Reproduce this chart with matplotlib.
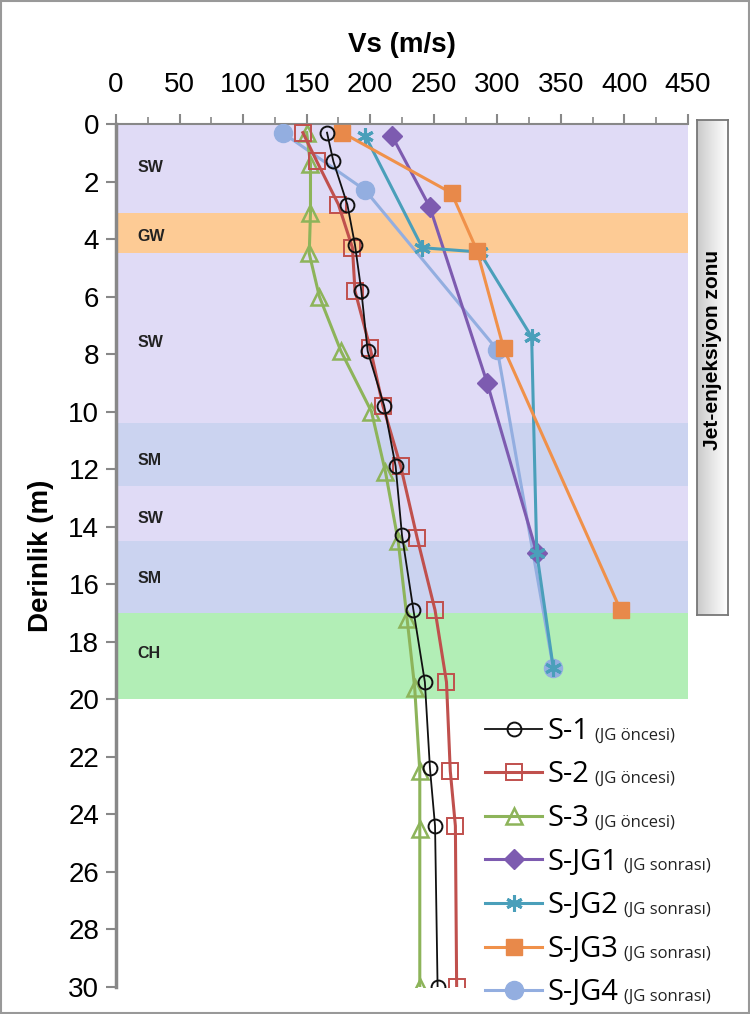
import numpy as np
import matplotlib
matplotlib.use('Agg')
import matplotlib.pyplot as plt
from matplotlib.patches import Rectangle

# Vs profiles (depth in m, Vs in m/s)
depth_s1 = [0.3, 1.3, 2.8, 4.2, 5.8, 7.9, 9.8, 11.9, 14.3, 16.9, 19.4, 22.4, 24.4, 30]
vs_s1 = [166, 171, 182, 188, 193, 198, 211, 220, 225, 234, 243, 247, 251, 253]

depth_s2 = [0.3, 1.3, 2.8, 4.3, 5.8, 7.8, 9.8, 11.9, 14.4, 16.9, 19.4, 22.5, 24.4, 30]
vs_s2 = [147, 158, 175, 186, 188, 200, 210, 224, 237, 251, 260, 263, 267, 268]

depth_s3 = [0.3, 1.4, 3.1, 4.5, 6.0, 7.9, 10.0, 12.1, 14.5, 17.2, 19.6, 22.5, 24.5, 30]
vs_s3 = [150, 153, 153, 152, 160, 177, 201, 212, 222, 229, 235, 239, 239, 239]

depth_jg1 = [0.4, 2.9, 9.0, 14.9]
vs_jg1 = [217, 247, 292, 331]

depth_jg2 = [0.4, 4.3, 4.45, 7.4, 14.9, 18.9]
vs_jg2 = [196, 241, 286, 327, 331, 344]

depth_jg3 = [0.3, 2.4, 4.4, 7.8, 16.9]
vs_jg3 = [178, 264, 284, 305, 397]

depth_jg4 = [0.3, 2.3, 7.85, 18.9]
vs_jg4 = [131, 196, 300, 344]

# soil layers
band_top = [0, 3.1, 4.5, 10.4, 12.6, 14.5, 17]
band_bot = [3.1, 4.5, 10.4, 12.6, 14.5, 17, 20]
band_name = ['SW', 'GW', 'SW', 'SM', 'SW', 'SM', 'CH']
band_label_depth = [1.5, 3.9, 7.6, 11.7, 13.7, 15.8, 18.4]
band_color = {'SW': '#E0DBF6', 'GW': '#FDCB95', 'SM': '#CBD3F0', 'CH': '#B2EEB6'}

labels = ['S-1', 'S-2', 'S-3', 'S-JG1', 'S-JG2', 'S-JG3', 'S-JG4']
notes = ['(JG öncesi)'] * 3 + ['(JG sonrası)'] * 4

fig = plt.figure(figsize=(7.5, 10.14), dpi=100)
ax = fig.add_axes([0.1547, 0.0266, 0.7626, 0.8511])

for t, b, n in zip(band_top, band_bot, band_name):
    ax.axhspan(t, b, xmin=0, xmax=1, color=band_color[n], lw=0, zorder=0)
for n, d in zip(band_name, band_label_depth):
    ax.text(17, d, n, fontsize=11.5, fontweight='bold', color='#222222',
            va='center', ha='left', family='Liberation Sans', zorder=1)

handles = []
h, = ax.plot(vs_s1, depth_s1, color='#111111', lw=1.3, marker='o', ms=10,
             mfc='none', mec='#111111', mew=1.4, zorder=6)
handles.append(h)
h, = ax.plot(vs_s2, depth_s2, color='#C0504D', lw=2.2, marker='s', ms=11,
             mfc='none', mec='#C0504D', mew=1.4, zorder=5)
handles.append(h)
h, = ax.plot(vs_s3, depth_s3, color='#8DB45A', lw=2.2, marker='^', ms=11,
             mfc='none', mec='#8DB45A', mew=1.8, zorder=4)
handles.append(h)
h, = ax.plot(vs_jg1, depth_jg1, color='#7D5BB0', lw=2.2, marker='D', ms=10,
             mfc='#7D5BB0', mec='#7D5BB0', zorder=4)
handles.append(h)
h4, = ax.plot(vs_jg4, depth_jg4, color='#93AEE0', lw=2.2, marker='o', ms=13,
              mfc='#93AEE0', mec='#93AEE0', zorder=3)
h, = ax.plot(vs_jg2, depth_jg2, color='#4A9FBA', lw=2.2, marker=(6, 2, 0), ms=12,
             mec='#4A9FBA', mew=2.2, zorder=4)
handles.append(h)
h, = ax.plot(vs_jg3, depth_jg3, color='#F0914A', lw=2.2, marker='s', ms=11,
             mfc='#E8894A', mec='#E8894A', zorder=4)
handles.append(h)
handles.append(h4)

ax.set_xlim(0, 450)
ax.set_ylim(30, 0)
ax.xaxis.tick_top()
ax.xaxis.set_label_position('top')
ax.set_xticks(np.arange(0, 451, 50))
ax.set_xticks(np.arange(0, 451, 25), minor=True)
ax.set_yticks(np.arange(0, 31, 2))
tick_font = ['Liberation Sans Narrow', 'Liberation Sans']
for lab in ax.get_xticklabels() + ax.get_yticklabels():
    lab.set_family(tick_font)
ax.tick_params(axis='both', which='major', labelsize=20, color='#888888',
               width=1.5, length=7, direction='out', pad=5)
ax.tick_params(axis='x', which='major', pad=12)
ax.tick_params(axis='x', which='minor', color='#888888', width=1.2, length=5,
               direction='out')
ax.set_xlabel('Vs (m/s)', fontsize=20, fontweight='bold', labelpad=14,
              family=tick_font)
ax.set_ylabel('Derinlik (m)', fontsize=20, fontweight='bold', labelpad=10,
              family='Liberation Sans')
ax.spines['right'].set_visible(False)
ax.spines['bottom'].set_visible(False)
ax.spines['left'].set_color('#888888')
ax.spines['left'].set_linewidth(2.5)
ax.spines['top'].set_color('#888888')
ax.spines['top'].set_linewidth(1.5)
ax.set_facecolor('white')

# legend (main label large, note small)
leg = fig.legend(handles, labels, loc='upper left', bbox_to_anchor=(0.647, 0.293),
                 frameon=False, handlelength=1.95, handletextpad=0.2,
                 labelspacing=0.5, borderaxespad=0, borderpad=0,
                 prop={'family': 'Open Sans', 'size': 21})

fig.canvas.draw()
renderer = fig.canvas.get_renderer()
inv = fig.transFigure.inverted()
for txt, note in zip(leg.get_texts(), notes):
    bb = txt.get_window_extent(renderer)
    x1, y0 = inv.transform((bb.x1 + 5, bb.y0 + 0.36 * bb.height))
    fig.text(x1, y0, note, fontsize=12, family='Open Sans', va='center',
             ha='left', color='#222222')

# jet-injection zone box
bax = fig.add_axes([0.929, 0.3935, 0.041, 0.4882])
grad = np.linspace(0.62, 1.0, 100) ** 0.5
bax.imshow(np.tile(grad, (2, 1)), aspect='auto', cmap='gray', vmin=0, vmax=1,
           extent=[0, 1, 0, 1])
bax.set_xlim(0, 1)
bax.set_ylim(0, 1)
bax.set_xticks([])
bax.set_yticks([])
for s in bax.spines.values():
    s.set_color('#777777')
    s.set_linewidth(1.3)
bax.text(0.5, 0.535, 'Jet-enjeksiyon zonu', rotation=90, fontsize=15,
         fontweight='bold', family='Liberation Sans', ha='center', va='center')

# outer border
fig.patches.append(Rectangle((0.001, 0.001), 0.998, 0.998, transform=fig.transFigure,
                             fill=False, edgecolor='#999999', lw=1.5))

fig.savefig('out.png', dpi=100)
